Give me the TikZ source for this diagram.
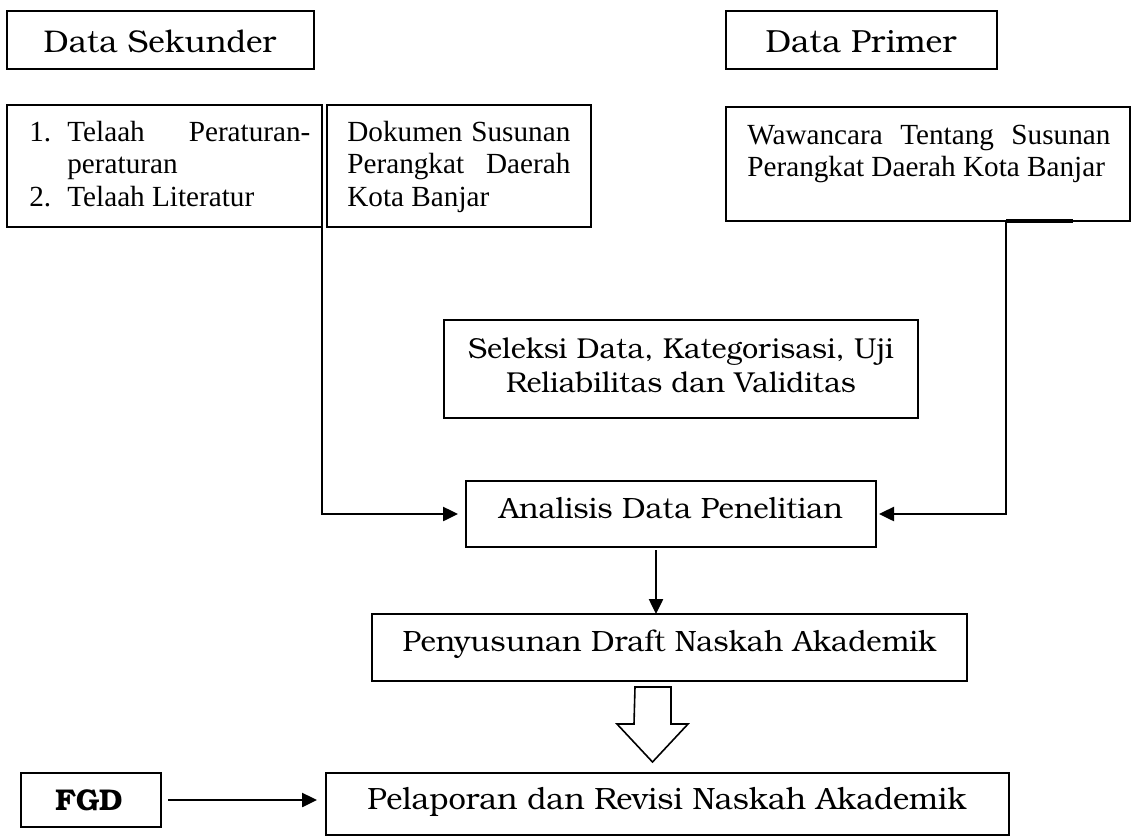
\documentclass[tikz,border=0pt]{standalone}
\usepackage{fontspec}
\newfontfamily\bk{texgyrebonum}[Extension=.otf, UprightFont=*-regular, BoldFont=*-bold]
\newfontfamily\tnr{Liberation Serif}
\usetikzlibrary{arrows.meta,calc}
\tikzset{
  box/.style={draw, line width=0.75pt, inner sep=0pt, outer sep=0pt, anchor=north west},
  btxt/.style={inner sep=0pt, anchor=base, font=\bk\fontsize{#1}{17pt}\selectfont},
  btxt/.default=15.5pt,
  ttxt/.style={inner sep=0pt, anchor=base west, font=\tnr\fontsize{14.6pt}{16.4pt}\selectfont},
  conn/.style={line width=1.25pt},
  arr/.style={conn, -{Triangle[length=7.5pt,width=7pt]}},
  hollow/.style={line width=0.8pt, line join=miter}
}
\begin{document}
\begin{tikzpicture}[x=0.5pt,y=-0.5pt]
\useasboundingbox (0,0) rectangle (1131,836);
% boxes
\node[box, minimum width=153.5pt, minimum height=29pt] (ds) at (7,11) {};
\node[box, minimum width=135.5pt, minimum height=29pt] (dp) at (726,11) {};
\node[box, minimum width=157.5pt, minimum height=61pt] (telaah) at (7,105) {};
\node[box, minimum width=132pt, minimum height=61pt] (dok) at (327,105) {};
\node[box, minimum width=202pt, minimum height=57pt] (waw) at (726,107) {};
\node[box, minimum width=237pt, minimum height=49pt] (sel) at (444,320) {};
\node[box, minimum width=205pt, minimum height=33pt] (anal) at (466,481) {};
\node[box, minimum width=297.5pt, minimum height=33.5pt] (peny) at (372,614) {};
\node[box, minimum width=341.5pt, minimum height=31pt] (pel) at (326,773) {};
\node[box, minimum width=70pt, minimum height=27pt] (fgd) at (21,773) {};
% texts
\node[btxt=15.7pt] (dst) at (160,52) {Data Sekunder};
\node[btxt=16pt] (dpt) at (861,52) {Data Primer};
\node[ttxt] (telt) at (29,141) {\parbox[t]{140.5pt}{\makebox[19pt][l]{1.}Telaah\hfill Peraturan-\\\hspace*{19pt}peraturan\\\makebox[19pt][l]{2.}Telaah Literatur}};
\node[ttxt] (dokt) at (347,141) {\parbox[t]{111.5pt}{Dokumen\hfill Susunan\\Perangkat\hfill Daerah\\Kota Banjar}};
\node[ttxt] (wawt) at (747,144) {\parbox[t]{181.5pt}{Wawancara\hfill Tentang\hfill Susunan\\Perangkat Daerah Kota Banjar}};
\node[btxt=14.4pt] (sel1) at (681,358) {Seleksi Data, Kategorisasi, Uji};
\node[btxt=14.4pt] (sel2) at (681,392) {Reliabilitas dan Validitas};
\node[btxt=14.7pt] (analt) at (671,518) {Analisis Data Penelitian};
\node[btxt=14.7pt] (penyt) at (669.5,651) {Penyusunan Draft Naskah Akademik};
\node[btxt=15.4pt] (pelt) at (667,809) {Pelaporan dan Revisi Naskah Akademik};
\node[btxt, font=\bk\bfseries\fontsize{15pt}{17pt}\selectfont] (fgdt) at (89,810) {FGD};
% connectors
\draw[arr, shorten >=4pt] (telaah.south east) |- (anal.west);
\coordinate (rj) at ($(waw.south west)+(280,0)$);
\coordinate (re) at ($(waw.south west)+(347,0)$);
\draw[line width=1.8pt] (rj) -- (re);
\draw[arr, shorten >=1.5pt] (rj) |- (anal.east);
\draw[arr] ([xshift=-7.5pt,yshift=-1.5pt]anal.south) -- ([xshift=-7.5pt]anal.south |- peny.north);
\draw[arr, shorten <=3.5pt, shorten >=4.5pt] (fgd.east) -- (fgd.east -| pel.west);
% hollow arrow
\coordinate (ha) at ($(peny.south)+(-16.5,6)$);
\draw[hollow] ($(ha)+(-18,0)$) -- ++(36,0) -- ++(0,37) -- ++(17,0) -- ++(-35.5,38) -- ++(-35.5,-38) -- ++(17,0) -- cycle;
\end{tikzpicture}
\end{document}
